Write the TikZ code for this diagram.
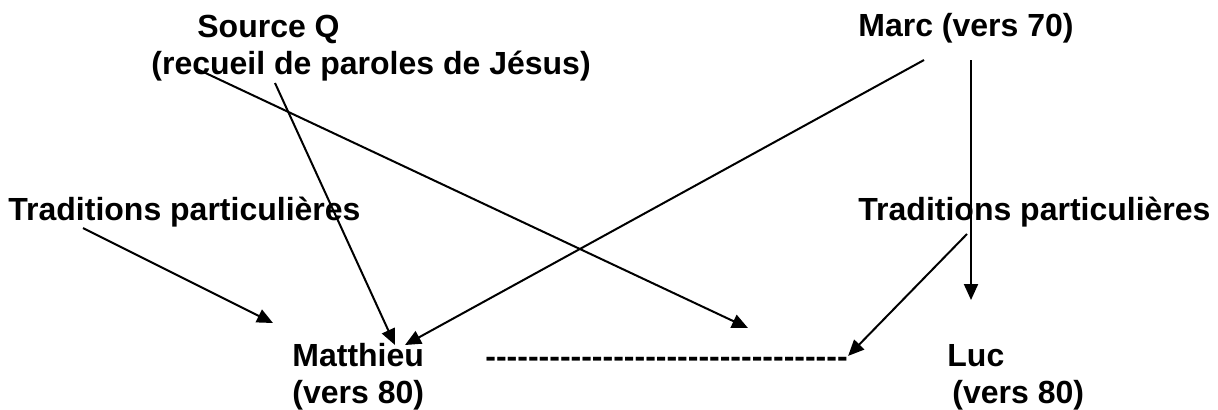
\documentclass[tikz,border=0pt]{standalone}
\usepackage{fontspec}
\setmainfont{Liberation Sans}
\usetikzlibrary{arrows.meta,calc}

\begin{document}
\begin{tikzpicture}[
    x=0.5pt, y=-0.5pt,
    txt/.style={inner sep=0pt, anchor=base west, align=left, font=\bfseries\fontsize{16}{18.5}\selectfont},
    arrow/.style={-{Triangle[length=8pt,width=7pt]}, line width=1pt}
]
    \useasboundingbox (0,0) rectangle (1218,409);

    % sources (base = last line)
    \node[txt] (srcQ) at (151,74) {\hspace*{23pt}Source Q\\(recueil de paroles de Jésus)};
    \node[txt] (marc) at (858,36) {Marc (vers 70)};
    \node[txt] (tradL) at (8,220) {Traditions particulières};
    \node[txt] (tradR) at (858,220) {Traditions particulières};

    % gospels
    \node[txt] (matt) at (292,403) {Matthieu\\(vers 80)};
    \node[txt] (luc) at (947,403) {Luc\\\hspace*{2.5pt}(vers 80)};
    \node[txt] (link) at (485,367) {\foreach \k in {1,...,34}{\hbox{-}}};

    % free ends of the arrows
    \coordinate (tradLout) at (83,228);   \coordinate (tradLin) at (273,323);
    \coordinate (qMatt) at (275,83);      \coordinate (mattQ) at (395,345);
    \coordinate (qLuc) at (197,69);       \coordinate (lucQ) at (748,328);
    \coordinate (marcMatt) at (924,60);   \coordinate (mattMarc) at (405,345);
    \coordinate (marcLuc) at (971,60);    \coordinate (lucMarc) at (971,300);
    \coordinate (tradRout) at (967,234);

    \draw[arrow] (tradLout) -- (tradLin);
    \draw[arrow] (qMatt) -- (mattQ);
    \draw[arrow] (qLuc) -- (lucQ);
    \draw[arrow] (marcMatt) -- (mattMarc);
    \draw[arrow] (marcLuc) -- (lucMarc);
    \draw[arrow] (tradRout) -- ([yshift=3pt]link.east);
\end{tikzpicture}
\end{document}
